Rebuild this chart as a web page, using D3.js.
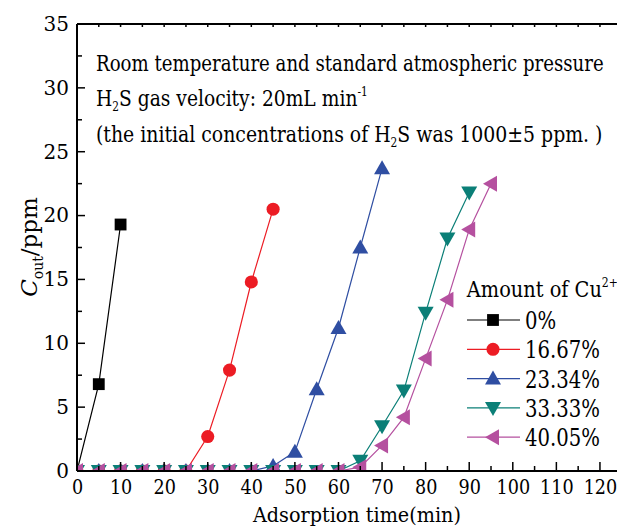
<!DOCTYPE html>
<html>
<head>
<meta charset="utf-8">
<script src="https://cdn.jsdelivr.net/npm/d3@7"></script>
<style>
  body { margin: 0; background: #fff; }
  svg, svg text, svg tspan { font-family: "DejaVu Serif", "Liberation Serif", serif !important; }
</style>
</head>
<body>
<div id="chart"></div>
<script>
// data
var times = [0, 5, 10, 15, 20, 25, 30, 35, 40, 45, 50, 55, 60, 65, 70, 75, 80, 85, 90, 95];
var cu0 = [0, 6.8, 19.3];
var cu1667 = [0, 0, 0, 0, 0, 0, 2.7, 7.9, 14.8, 20.5];
var cu2334 = [0, 0, 0, 0, 0, 0, 0, 0, 0, 0.4, 1.5, 6.4, 11.2, 17.5, 23.7];
var cu3333 = [0, 0, 0, 0, 0, 0, 0, 0, 0, 0, 0, 0, 0, 0.8, 3.5, 6.3, 12.4, 18.2, 21.8];
var cu4005 = [0, 0, 0, 0, 0, 0, 0, 0, 0, 0, 0, 0, 0, 0.3, 2.0, 4.2, 8.8, 13.4, 18.9, 22.5];
var seriesNames = ["0%", "16.67%", "23.34%", "33.33%", "40.05%"];
var xTicks = [0, 10, 20, 30, 40, 50, 60, 70, 80, 90, 100, 110, 120];
var yTicks = [0, 5, 10, 15, 20, 25, 30, 35];

var svgWidth = 617;
var svgHeight = 526;
var margin = { top: 24, right: -3, bottom: 55, left: 77 };
var width = svgWidth - margin.left - margin.right;
var height = svgHeight - margin.top - margin.bottom;

var svg = d3.select("#chart").append("svg")
  .attr("width", svgWidth)
  .attr("height", svgHeight);

var chartGroup = svg.append("g")
  .attr("transform", `translate(${margin.left}, ${margin.top})`);

var xScale = d3.scaleLinear().domain([0, 124.6]).range([0, width]);
var yScale = d3.scaleLinear().domain([0, 35]).range([height, 0]);

var colors = ["#000000", "#ec1c24", "#2f4ea2", "#0b7f77", "#b5509f"];
var symbols = ["square", "circle", "up", "down", "left"];
var allSeries = [cu0, cu1667, cu2334, cu3333, cu4005].map(function(vals, i) {
  return {
    name: seriesNames[i],
    color: colors[i],
    symbol: symbols[i],
    points: vals.map(function(v, j) { return { t: times[j], c: v }; })
  };
});

// squeeze a text horizontally so it spans w pixels from its x
function fitWidth(sel, w) {
  var bb = sel.node().getBBox();
  var k = w / bb.width;
  var x0 = bb.x;
  sel.attr("transform", `translate(${x0},0) scale(${k},1) translate(${-x0},0)`);
}

// marker path
function markerPath(sym) {
  if (sym === "square") return d3.symbol(d3.symbolSquare, 140)();
  if (sym === "circle") return d3.symbol(d3.symbolCircle, 135)();
  var s = 8;
  if (sym === "up") return `M0,${-s}L${s},${s * 0.75}L${-s},${s * 0.75}Z`;
  if (sym === "down") return `M0,${s}L${s},${-s * 0.75}L${-s},${-s * 0.75}Z`;
  return `M${-s},0L${s * 0.75},${-s}L${s * 0.75},${s}Z`;
}

svg.append("defs").append("clipPath").attr("id", "plotclip")
  .append("rect").attr("x", 0).attr("y", 0).attr("width", width).attr("height", height);

var plot = chartGroup.append("g").attr("clip-path", "url(#plotclip)");

var line = d3.line()
  .x(d => xScale(d.t))
  .y(d => yScale(d.c));

allSeries.forEach(function(s) {
  plot.append("path")
    .datum(s.points)
    .attr("d", line)
    .attr("fill", "none")
    .attr("stroke", s.color)
    .attr("stroke-width", 1.2);
  plot.selectAll(null)
    .data(s.points)
    .enter()
    .append("path")
    .attr("d", markerPath(s.symbol))
    .attr("transform", d => `translate(${xScale(d.t)}, ${yScale(d.c)})`)
    .attr("fill", s.color);
});

// axes
var bottomAxis = d3.axisBottom(xScale).tickValues(xTicks).tickSize(0).tickPadding(9).tickFormat(d3.format("d"));
var xAxis = chartGroup.append("g")
  .attr("transform", `translate(0, ${height})`)
  .call(bottomAxis);
xAxis.select(".domain").remove();
xAxis.selectAll(".tick text").attr("font-size", 20).attr("fill", "#000")
  .attr("transform", "scale(0.88,1)");

var leftAxis = d3.axisLeft(yScale).tickValues(yTicks).tickSize(0).tickPadding(8).tickFormat(d3.format("d"));
var yAxis = chartGroup.append("g").call(leftAxis);
yAxis.select(".domain").remove();
yAxis.selectAll("text").attr("font-size", 20).attr("fill", "#000");

// inward ticks
var tickGroup = chartGroup.append("g").attr("stroke", "#000").attr("stroke-width", 1.5);
d3.range(0, 125, 5).forEach(function(t) {
  var major = t % 10 === 0;
  tickGroup.append("line")
    .attr("x1", xScale(t)).attr("x2", xScale(t))
    .attr("y1", height).attr("y2", height - (major ? 9 : 5));
  tickGroup.append("line")
    .attr("x1", xScale(t)).attr("x2", xScale(t))
    .attr("y1", 0).attr("y2", 3);
});
d3.range(0, 35.1, 2.5).forEach(function(v) {
  var major = v % 5 === 0;
  tickGroup.append("line")
    .attr("x1", 0).attr("x2", major ? 8 : 5)
    .attr("y1", yScale(v)).attr("y2", yScale(v));
});

// frame
chartGroup.append("line").attr("x1", 0).attr("x2", width).attr("y1", height).attr("y2", height)
  .attr("stroke", "#000").attr("stroke-width", 2);
chartGroup.append("line").attr("x1", 0).attr("x2", width).attr("y1", 0).attr("y2", 0)
  .attr("stroke", "#000").attr("stroke-width", 2);
chartGroup.append("line").attr("x1", 0).attr("x2", 0).attr("y1", 0).attr("y2", height)
  .attr("stroke", "#000").attr("stroke-width", 2);

// axis titles
var xTitle = svg.append("text")
  .attr("x", 253).attr("y", 522)
  .attr("font-size", 21)
  .text("Adsorption time(min)");
fitWidth(xTitle, 209);

var yTitle = svg.append("text")
  .attr("transform", "translate(37, 247) rotate(-90)")
  .attr("text-anchor", "middle")
  .attr("font-size", 23);
yTitle.append("tspan").attr("font-style", "italic").text("C");
yTitle.append("tspan").attr("font-size", 14).attr("dy", 6).text("out");
yTitle.append("tspan").attr("dy", -6).text("/ppm");

// annotation
var note = svg.append("g").attr("font-size", 23);
var n1 = note.append("text").attr("x", 96).attr("y", 71)
  .text("Room temperature and standard atmospheric pressure");
fitWidth(n1, 508);
var n2 = note.append("text").attr("x", 96).attr("y", 106);
n2.append("tspan").text("H");
n2.append("tspan").attr("font-size", 13).attr("dy", 5).text("2");
n2.append("tspan").attr("dy", -5).text("S gas velocity: 20mL min");
n2.append("tspan").attr("font-size", 13).attr("dy", -10).text("-1");
fitWidth(n2, 272);
var n3 = note.append("text").attr("x", 96).attr("y", 142);
n3.append("tspan").text("(the initial concentrations of H");
n3.append("tspan").attr("font-size", 13).attr("dy", 5).text("2");
n3.append("tspan").attr("dy", -5).text("S was 1000\u00b15 ppm. )");
fitWidth(n3, 507);

// legend
var legend = svg.append("g").attr("transform", "translate(467, 0)");
var lt = legend.append("text").attr("x", 0).attr("y", 297).attr("font-size", 23);
lt.append("tspan").text("Amount of Cu");
lt.append("tspan").attr("font-size", 13).attr("dy", -10).text("2+");
fitWidth(lt, 152);

allSeries.forEach(function(s, i) {
  var y = 320 + i * 29.3;
  var row = legend.append("g").attr("transform", `translate(0, ${y})`);
  row.append("line").attr("x1", 0).attr("x2", 53).attr("y1", 0).attr("y2", 0)
    .attr("stroke", s.color).attr("stroke-width", 1.2);
  row.append("path").attr("d", markerPath(s.symbol))
    .attr("transform", "translate(26, 0)").attr("fill", s.color);
  var t = row.append("text").attr("x", 58).attr("y", 9).attr("font-size", 24).text(s.name);
  fitWidth(t, t.node().getBBox().width * 0.82);
});
</script>
</body>
</html>
